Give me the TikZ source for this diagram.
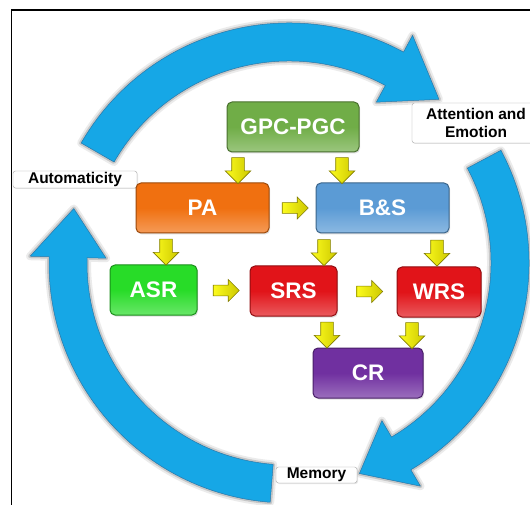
\documentclass[tikz,border=0pt]{standalone}
\usepackage{fontspec}
\setmainfont{Liberation Sans}
\usetikzlibrary{calc,shapes.arrows,shadows}
\definecolor{ringblue}{RGB}{22,167,230}
\definecolor{ringedge}{RGB}{40,120,170}
\definecolor{gpcC}{RGB}{112,173,71}
\definecolor{paC}{RGB}{240,112,16}
\definecolor{bsC}{RGB}{91,155,213}
\definecolor{asrC}{RGB}{40,220,40}
\definecolor{srsC}{RGB}{225,20,25}
\definecolor{crC}{RGB}{112,48,160}
\definecolor{yA}{RGB}{252,252,30}
\definecolor{yB}{RGB}{205,200,0}
\definecolor{yEdge}{RGB}{130,125,0}
\newcommand{\ringarrow}[3]{(#1:240) arc[start angle=#1,end angle=#2,radius=240] -- (#2:259) -- (#3:222) -- (#2:183) -- (#2:202) arc[start angle=#2,end angle=#1,radius=202] -- cycle}
\tikzset{
  colbox/.style={rounded corners=5pt, minimum height=50pt, inner sep=0pt, line width=1pt,
    text=white, font=\fontsize{22.5}{25}\selectfont\bfseries,
    draw=#1!65!black, top color=#1, bottom color=#1!70!white, middle color=#1,
    drop shadow={opacity=.25, shadow xshift=1pt, shadow yshift=-1.5pt}},
  lbl/.style={draw=gray!70, fill=white, rounded corners=2.5pt, inner sep=0pt, align=center,
    font=\fontsize{15.5}{18}\selectfont\bfseries,
    drop shadow={opacity=.2, shadow xshift=1pt, shadow yshift=-1pt}},
  yarrow/.style={single arrow, draw=yEdge, line width=.6pt, left color=yA, right color=yB,
    minimum height=26pt, minimum width=25pt, inner sep=0pt, inner ysep=6pt,
    single arrow head extend=6.5pt},
  halo/.style={draw=black, line join=round},
  ring/.style={fill=ringblue, draw=ringedge, line width=.5pt, line join=round}
}
\begin{document}
\begin{tikzpicture}[x=1pt,y=1pt]
\useasboundingbox (0,0) rectangle (530,504);
\clip (0,0) rectangle (530,504);
\fill[white] (0,0) rectangle (530,504);
\draw[line width=1.5pt] (11.7,-10) -- (11.7,494) -- (545,494);

% big cycle arrows
\begin{scope}[shift={(289,241)}]
  \foreach \a/\b/\t in {150/61.5/47.5, 28/-59.5/-71.5, 265.5/178.5/165.8}{
    \draw[halo, line width=8pt, opacity=.08] \ringarrow{\a}{\b}{\t};
    \draw[halo, line width=4pt, opacity=.15] \ringarrow{\a}{\b}{\t};
    \draw[ring] \ringarrow{\a}{\b}{\t};
  }
\end{scope}

% labels
\node[lbl, minimum width=124pt, minimum height=17pt] (aut) at (75,324.5) {Automaticity};
\node[lbl, minimum width=128pt, minimum height=40pt] (att) at (476,381) {Attention and\\Emotion};
\node[lbl, minimum width=81pt, minimum height=16pt] (mem) at (316.5,29) {Memory};

% boxes
\node[colbox=gpcC, minimum width=132pt] (gpc) at (293,377) {GPC-PGC};
\node[colbox=paC, minimum width=133pt] (pa) at (202.5,296) {PA};
\node[colbox=bsC, minimum width=133pt] (bs) at (382.5,296) {B\&S};
\node[colbox=asrC, minimum width=87pt] (asr) at (153.5,214) {ASR};
\node[colbox=srsC, minimum width=87pt] (srs) at (293.5,213) {SRS};
\node[colbox=srsC, minimum width=84pt] (wrs) at (439,212) {WRS};
\node[colbox=crC, minimum width=110pt] (cr) at (368,131) {CR};

% yellow connectors
\path let \p1=($(gpc.south)!.5!(pa.north)$) in node[yarrow, rotate=-90] (d1) at (238pt,\y1) {};
\path let \p1=($(gpc.south)!.5!(bs.north)$) in node[yarrow, rotate=-90] (d2) at (342pt,\y1) {};
\path let \p1=($(pa.south)!.5!(asr.north)$) in node[yarrow, rotate=-90] (d3) at (166pt,\y1) {};
\path let \p1=($(bs.south)!.5!(srs.north)$) in node[yarrow, rotate=-90] (d4) at (324pt,\y1) {};
\path let \p1=($(bs.south)!.5!(wrs.north)$) in node[yarrow, rotate=-90] (d5) at (437pt,\y1) {};
\path let \p1=($(srs.south)!.5!(cr.north)$) in node[yarrow, rotate=-90] (d6) at (327pt,\y1) {};
\path let \p1=($(wrs.south)!.5!(cr.north)$) in node[yarrow, rotate=-90] (d7) at (412pt,\y1) {};
\node[yarrow, minimum width=22pt, inner ysep=5pt, single arrow head extend=5.5pt] (r1) at ($(pa.east)!.5!(bs.west)$) {};
\node[yarrow, minimum width=22pt, inner ysep=5pt, single arrow head extend=5.5pt] (r2) at ($(asr.east)!.5!(srs.west)$) {};
\node[yarrow, minimum width=22pt, inner ysep=5pt, single arrow head extend=5.5pt] (r3) at ($(srs.east)!.5!(wrs.west)$) {};
\end{tikzpicture}
\end{document}
